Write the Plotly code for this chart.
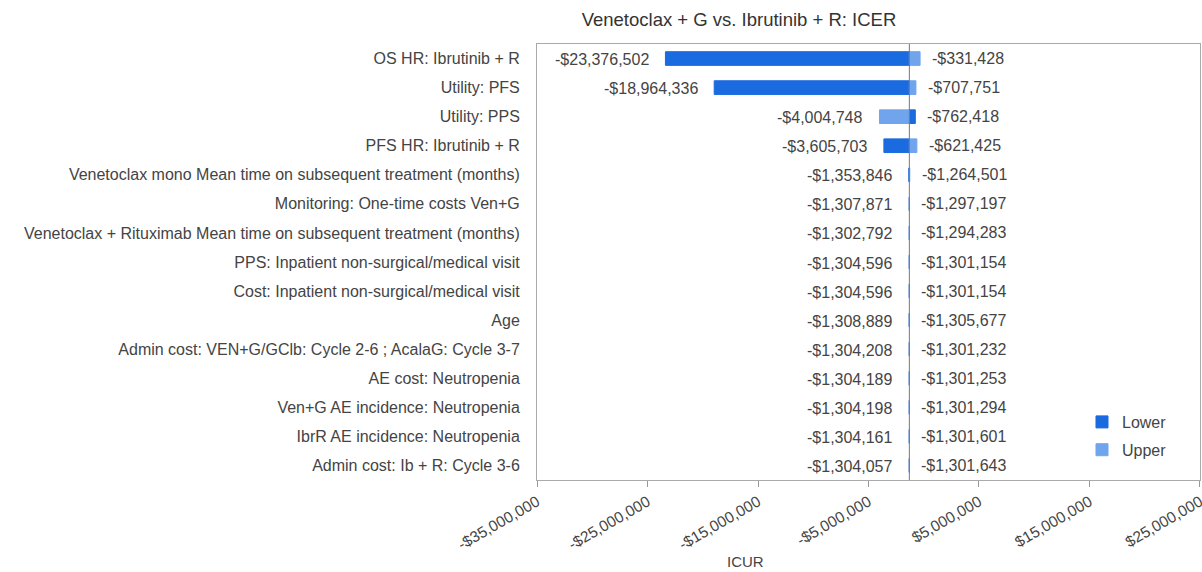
import plotly.graph_objects as go

# Tornado chart: one-way sensitivity of the ICER
params = [
    "OS HR: Ibrutinib + R",
    "Utility: PFS",
    "Utility: PPS",
    "PFS HR: Ibrutinib + R",
    "Venetoclax mono Mean time on subsequent treatment (months)",
    "Monitoring: One-time costs Ven+G",
    "Venetoclax + Rituximab Mean time on subsequent treatment (months)",
    "PPS: Inpatient non-surgical/medical visit",
    "Cost: Inpatient non-surgical/medical visit",
    "Age",
    "Admin cost: VEN+G/GClb: Cycle 2-6 ; AcalaG: Cycle 3-7",
    "AE cost: Neutropenia",
    "Ven+G AE incidence: Neutropenia",
    "IbrR AE incidence: Neutropenia",
    "Admin cost: Ib + R: Cycle 3-6",
]
lower = [-23376502, -18964336, -762418, -3605703, -1353846, -1307871, -1302792,
         -1304596, -1304596, -1308889, -1304208, -1304189, -1304198, -1304161, -1304057]
upper = [-331428, -707751, -4004748, -621425, -1264501, -1297197, -1294283,
         -1301154, -1301154, -1305677, -1301232, -1301253, -1301294, -1301601, -1301643]
base_icer = -1303000

tick_vals = [-35e6, -25e6, -15e6, -5e6, 5e6, 15e6, 25e6]
tick_text = ["-$35,000,000", "-$25,000,000", "-$15,000,000", "-$5,000,000",
             "$5,000,000", "$15,000,000", "$25,000,000"]

DARK = "#1a6ae0"
LIGHT = "#70a5ee"
TXT = "#444444"
FONT = "Liberation Sans, Arial, sans-serif"


def money(v):
    return ("-$" if v < 0 else "$") + f"{abs(v):,}"


fig = go.Figure()
fig.add_trace(go.Bar(
    y=params, x=[v - base_icer for v in lower], base=base_icer,
    orientation="h", name="Lower", legendgroup="lo",
    marker=dict(color=DARK, line=dict(width=1, color=DARK)),
    width=0.47,
))
fig.add_trace(go.Bar(
    y=params, x=[v - base_icer for v in upper], base=base_icer,
    orientation="h", name="Upper", legendgroup="hi",
    marker=dict(color=LIGHT, line=dict(width=1, color=LIGHT)),
    width=0.47,
))

annotations = []
for p, lo, hi in zip(params, lower, upper):
    left_v, right_v = min(lo, hi), max(lo, hi)
    annotations.append(dict(
        x=min(left_v, base_icer), y=p, xref="x", yref="y", text=money(left_v),
        showarrow=False, xanchor="right", xshift=-14, yshift=-1,
        font=dict(size=16, color=TXT, family=FONT),
    ))
    annotations.append(dict(
        x=max(right_v, base_icer), y=p, xref="x", yref="y", text=money(right_v),
        showarrow=False, xanchor="left", xshift=10, yshift=0,
        font=dict(size=16, color=TXT, family=FONT),
    ))

annotations.append(dict(
    x=0.314, y=-0.188, xref="paper", yref="paper", text="ICUR",
    showarrow=False, xanchor="center", yanchor="middle",
    font=dict(size=15, color=TXT, family=FONT),
))

fig.add_shape(type="line", xref="x", yref="paper", x0=base_icer, x1=base_icer,
              y0=0, y1=1, line=dict(color="#777777", width=1), layer="above")

fig.update_layout(
    width=1202, height=572,
    margin=dict(l=537, r=2, t=44, b=92),
    paper_bgcolor="white", plot_bgcolor="white",
    barmode="overlay",
    title=dict(text="Venetoclax + G vs. Ibrutinib + R: ICER", x=739 / 1202, xanchor="center",
               y=0.965, yanchor="middle", font=dict(size=18.5, color="#333333", family=FONT)),
    font=dict(family=FONT, color=TXT, size=16),
    xaxis=dict(range=[-35e6, 25.001e6], tickvals=tick_vals, ticktext=tick_text,
               tickangle=-30, ticks="outside", ticklen=6, tickcolor="#999999",
               ticklabeloverflow="allow", automargin=False,
               showgrid=False, zeroline=False, showline=True, linecolor="#aaaaaa",
               mirror=True, tickfont=dict(size=15.5, color=TXT)),
    yaxis=dict(categoryorder="array", categoryarray=params, autorange="reversed",
               showgrid=False, zeroline=False, showline=True, linecolor="#aaaaaa",
               mirror=True, ticks="", ticklabelstandoff=13, automargin=False,
               tickfont=dict(size=16, color=TXT)),
    legend=dict(x=0.822, y=0.172, xanchor="left", yanchor="top",
                font=dict(size=16, color=TXT), bgcolor="rgba(0,0,0,0)",
                itemwidth=30, tracegroupgap=4),
    annotations=annotations,
    showlegend=True,
)

fig.write_html("out.html")
